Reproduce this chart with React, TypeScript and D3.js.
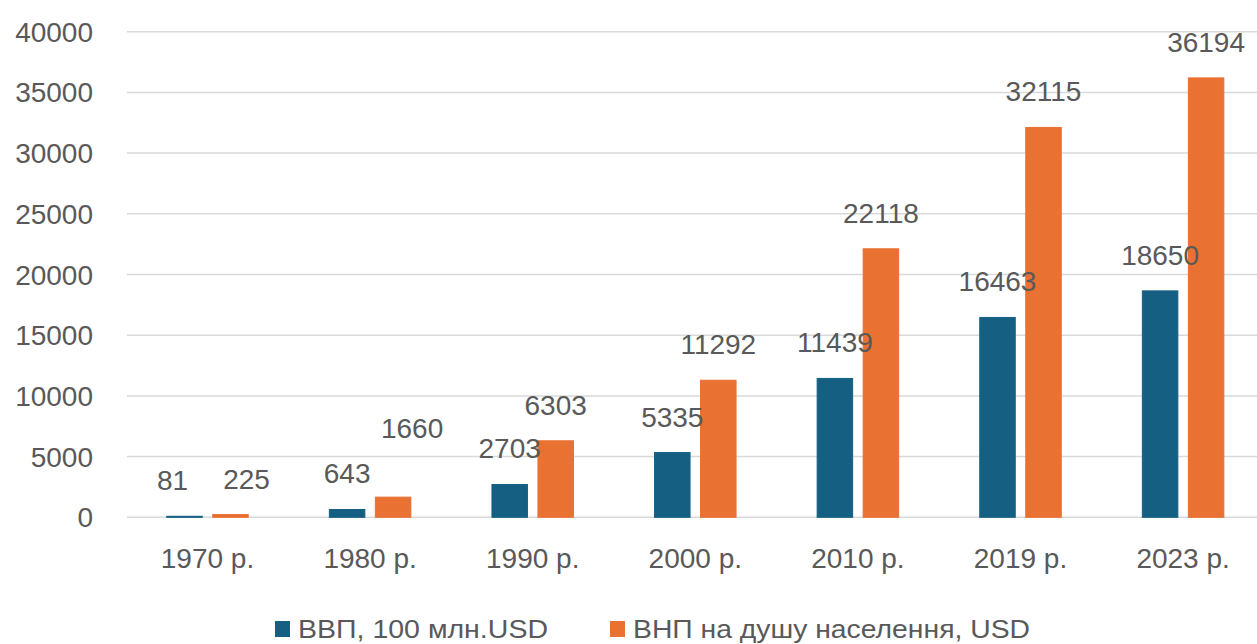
import React from "react";
import * as d3 from "d3";

const categories = ["1970 р.", "1980 р.", "1990 р.", "2000 р.", "2010 р.", "2019 р.", "2023 р."];
const gdp = [81, 643, 2703, 5335, 11439, 16463, 18650];
const gnp = [225, 1660, 6303, 11292, 22118, 32115, 36194];
const seriesNames = ["ВВП, 100 млн.USD", "ВНП на душу населення, USD"];
const yTicks = [0, 5000, 10000, 15000, 20000, 25000, 30000, 35000, 40000];

// label nudges (as placed in the original)
const gdpLabelDx = [-12, 0, 0, 0, 0, 0, 0];
const gnpLabelDx = [16, 19, 0, 0, 0, 0, 0];
const gnpLabelDy = [0, -33, 0, 0, 0, 0, 0];

const W = 1257;
const H = 644;
const COLORS = ["#156082", "#E97132"];
const TEXT = "#595959";
const GRID = "#D9D9D9";
const FONT = "'Liberation Sans', Arial, sans-serif";

export default function App() {
  const x = d3.scaleBand<string>().domain(categories).range([126.2, 1264.4]).paddingInner(0).paddingOuter(0);
  const y = d3.scaleLinear().domain([0, 40000]).range([517.3, 31.7]);
  const barW = 35.5;
  const gap = 10.5;
  const series = [gdp, gnp];

  const items = categories.flatMap((c, i) => {
    const cx = (x(c) as number) + x.bandwidth() / 2;
    return series.map((s, si) => {
      const bx = si === 0 ? cx - gap / 2 - barW : cx + gap / 2;
      const v = s[i];
      const dx = si === 0 ? gdpLabelDx[i] : gnpLabelDx[i];
      const dy = si === 0 ? 0 : gnpLabelDy[i];
      return { key: `${c}-${si}`, si, bx, v, dx, dy };
    });
  });

  return (
    <svg width={W} height={H} style={{ position: "absolute", left: 0, top: 0, background: "#fff" }} fontFamily={FONT}>
      {yTicks.map((t) => (
        <g key={t}>
          <line x1={127} x2={W} y1={y(t)} y2={y(t)} stroke={GRID} strokeWidth={1.5} />
          <text x={93} y={y(t)} dy="0.36em" textAnchor="end" fontSize={28} fill={TEXT}>
            {t}
          </text>
        </g>
      ))}
      {items.map((d) => (
        <rect
          key={d.key}
          x={d.bx}
          y={y(d.v)}
          width={barW}
          height={y(0) - y(d.v)}
          fill={COLORS[d.si]}
          stroke={COLORS[d.si]}
          strokeWidth={1}
        />
      ))}
      {items.map((d) => (
        <text
          key={d.key}
          x={d.bx + barW / 2 + d.dx}
          y={y(d.v) - 26 + d.dy}
          textAnchor="middle"
          fontSize={28}
          fill={TEXT}
        >
          {d.v}
        </text>
      ))}
      {categories.map((c) => (
        <text key={c} x={(x(c) as number) + x.bandwidth() / 2} y={568} textAnchor="middle" fontSize={28} fill={TEXT}>
          {c}
        </text>
      ))}
      <g>
        <rect x={275} y={621} width={15} height={16} fill={COLORS[0]} />
        <text x={298} y={638} fontSize={26} fill={TEXT} textLength={250} lengthAdjust="spacingAndGlyphs">
          {seriesNames[0]}
        </text>
        <rect x={610} y={621} width={15} height={16} fill={COLORS[1]} />
        <text x={633} y={638} fontSize={26} fill={TEXT} textLength={397} lengthAdjust="spacingAndGlyphs">
          {seriesNames[1]}
        </text>
      </g>
    </svg>
  );
}
